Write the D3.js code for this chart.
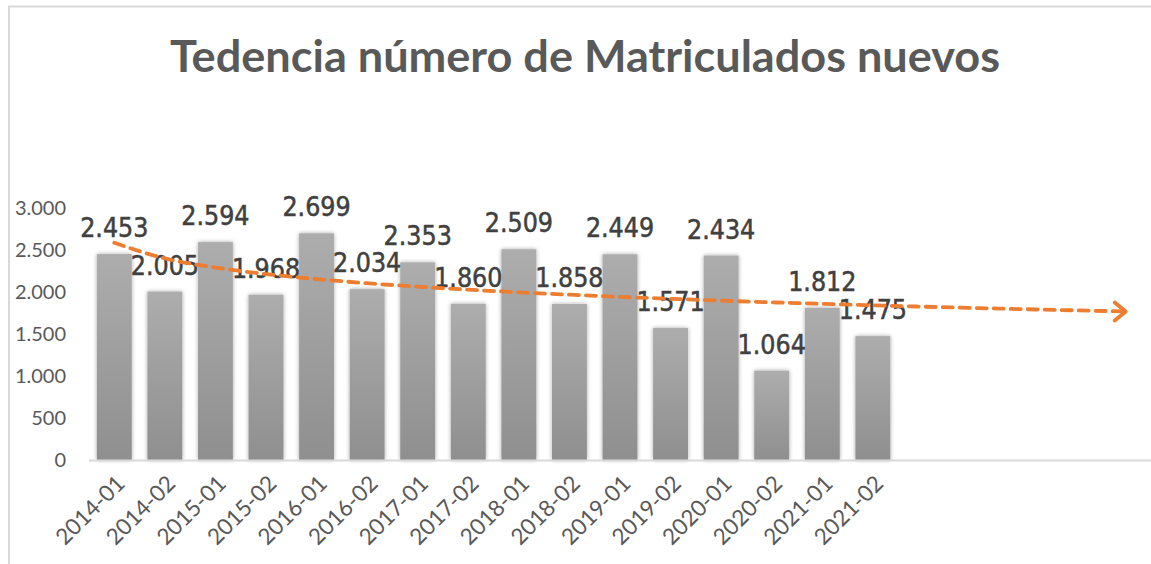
<!DOCTYPE html>
<html lang="es">
    <head>
        <meta charset="utf-8">
        <style>
            body { margin: 0; background: #fff; }
            .tick-label { font-family: Lato, "Open Sans", sans-serif; fill: #595959; }
            .value-label { font-family: "DejaVu Sans Condensed", "DejaVu Sans", sans-serif; fill: #404040; stroke: #404040; stroke-width: 0.5; }
        </style>
        <script src="https://d3js.org/d3.v7.min.js"></script>
    </head>
    <body>
        <svg width="1151" height="564"></svg>
        <script>
            // Data
            var periods = ["2014-01", "2014-02", "2015-01", "2015-02", "2016-01", "2016-02",
                           "2017-01", "2017-02", "2018-01", "2018-02", "2019-01", "2019-02",
                           "2020-01", "2020-02", "2021-01", "2021-02"];
            var matriculados = [2453, 2005, 2594, 1968, 2699, 2034, 2353, 1860,
                                2509, 1858, 2449, 1571, 2434, 1064, 1812, 1475];
            var yTicks = [0, 500, 1000, 1500, 2000, 2500, 3000];
            var forecastPeriods = 5;   // trendline goes 5 periods forward

            var svg = d3.select("svg");
            var fmt = d3.formatLocale({ decimal: ",", thousands: ".", grouping: [3], currency: ["", ""] }).format(",");

            // chart frame (top + left edge)
            svg.append("path")
                .attr("d", "M9,564 V6.5 H1151")
                .attr("fill", "none")
                .attr("stroke", "#d9d9d9")
                .attr("stroke-width", 2);

            // title
            svg.append("text")
                .attr("x", 585)
                .attr("y", 72)
                .attr("text-anchor", "middle")
                .attr("font-family", "Lato, 'Open Sans', sans-serif")
                .attr("font-weight", "bold")
                .attr("font-size", 44)
                .attr("fill", "#595959")
                .attr("textLength", 830)
                .attr("lengthAdjust", "spacingAndGlyphs")
                .text("Tedencia número de Matriculados nuevos");

            // scales: 16 real periods plus the forecast slots
            var slots = d3.range(periods.length + forecastPeriods);
            var x = d3.scaleBand()
                .domain(slots)
                .range([89, 1151])
                .paddingInner(0.31)
                .paddingOuter(0.155);
            var y = d3.scaleLinear()
                .domain([0, 3000])
                .range([460, 208]);

            var defs = svg.append("defs");
            var grad = defs.append("linearGradient")
                .attr("id", "barGrad")
                .attr("x1", 0).attr("y1", 0).attr("x2", 0).attr("y2", 1);
            grad.append("stop").attr("offset", "0%").attr("stop-color", "#adadad");
            grad.append("stop").attr("offset", "100%").attr("stop-color", "#8f8f8f");

            var shadow = defs.append("filter")
                .attr("id", "glow")
                .attr("x", "-30%").attr("y", "-10%").attr("width", "160%").attr("height", "120%");
            shadow.append("feGaussianBlur").attr("in", "SourceAlpha").attr("stdDeviation", 2.2).attr("result", "b");
            shadow.append("feComponentTransfer").attr("in", "b").attr("result", "s")
                .append("feFuncA").attr("type", "linear").attr("slope", 0.35);
            var merge = shadow.append("feMerge");
            merge.append("feMergeNode").attr("in", "s");
            merge.append("feMergeNode").attr("in", "SourceGraphic");

            // y tick labels
            svg.append("g")
                .selectAll("text")
                .data(yTicks)
                .enter()
                .append("text")
                    .attr("class", "tick-label")
                    .attr("x", 66)
                    .attr("y", function(d) { return y(d); })
                    .attr("dy", "0.35em")
                    .attr("text-anchor", "end")
                    .attr("font-size", 20)
                    .text(function(d) { return fmt(d); });

            // bars
            svg.append("g")
                .selectAll("rect")
                .data(matriculados)
                .enter()
                .append("rect")
                    .attr("x", function(d, i) { return x(i); })
                    .attr("y", function(d) { return y(d); })
                    .attr("width", x.bandwidth())
                    .attr("height", function(d) { return y(0) - y(d); })
                    .attr("fill", "url(#barGrad)")
                    .attr("filter", "url(#glow)");

            // category axis line
            svg.append("line")
                .attr("x1", 89).attr("x2", 1151)
                .attr("y1", 460.5).attr("y2", 460.5)
                .attr("stroke", "#d9d9d9")
                .attr("stroke-width", 2);

            // x labels, rotated
            svg.append("g")
                .selectAll("text")
                .data(periods)
                .enter()
                .append("text")
                    .attr("class", "tick-label")
                    .attr("font-size", 22.5)
                    .attr("text-anchor", "end")
                    .attr("transform", function(d, i) {
                        var cx = x(i) + x.bandwidth() / 2;
                        return "translate(" + (cx + 12) + ",485) rotate(-45)";
                    })
                    .text(function(d) { return d; });

            // value labels
            svg.append("g")
                .selectAll("text")
                .data(matriculados)
                .enter()
                .append("text")
                    .attr("class", "value-label")
                    .attr("font-size", 26.5)
                    .attr("text-anchor", "middle")
                    .attr("x", function(d, i) { return x(i) + x.bandwidth() / 2; })
                    .attr("y", function(d) { return y(d) - 17; })
                    .text(function(d) { return fmt(d); });

            // logarithmic trendline (least squares on ln(period number)), forecast forward
            var lx = matriculados.map(function(d, i) { return Math.log(i + 1); });
            var mx = d3.mean(lx), my = d3.mean(matriculados);
            var sxy = d3.sum(lx, function(v, i) { return (v - mx) * (matriculados[i] - my); });
            var sxx = d3.sum(lx, function(v) { return (v - mx) * (v - mx); });
            var b = sxy / sxx, a = my - b * mx;
            var trend = slots.map(function(i) { return { i: i, v: a + b * Math.log(i + 1) }; });

            var line = d3.line()
                .x(function(d) { return x(d.i) + x.bandwidth() / 2; })
                .y(function(d) { return y(d.v); })
                .curve(d3.curveMonotoneX);

            svg.append("path")
                .datum(trend)
                .attr("fill", "none")
                .attr("stroke", "#ed7d31")
                .attr("stroke-width", 3.8)
                .attr("stroke-dasharray", "10,7")
                .attr("stroke-linecap", "round")
                .attr("d", line);

            // open arrow head at the end
            var last = trend[trend.length - 1];
            var ex = x(last.i) + x.bandwidth() / 2, ey = y(last.v);
            svg.append("path")
                .attr("d", "M" + (ex - 11) + "," + (ey - 9) + " L" + ex + "," + ey + " L" + (ex - 11) + "," + (ey + 9))
                .attr("fill", "none")
                .attr("stroke", "#ed7d31")
                .attr("stroke-width", 3.8)
                .attr("stroke-linecap", "round")
                .attr("stroke-linejoin", "round");
        </script>
    </body>
</html>
